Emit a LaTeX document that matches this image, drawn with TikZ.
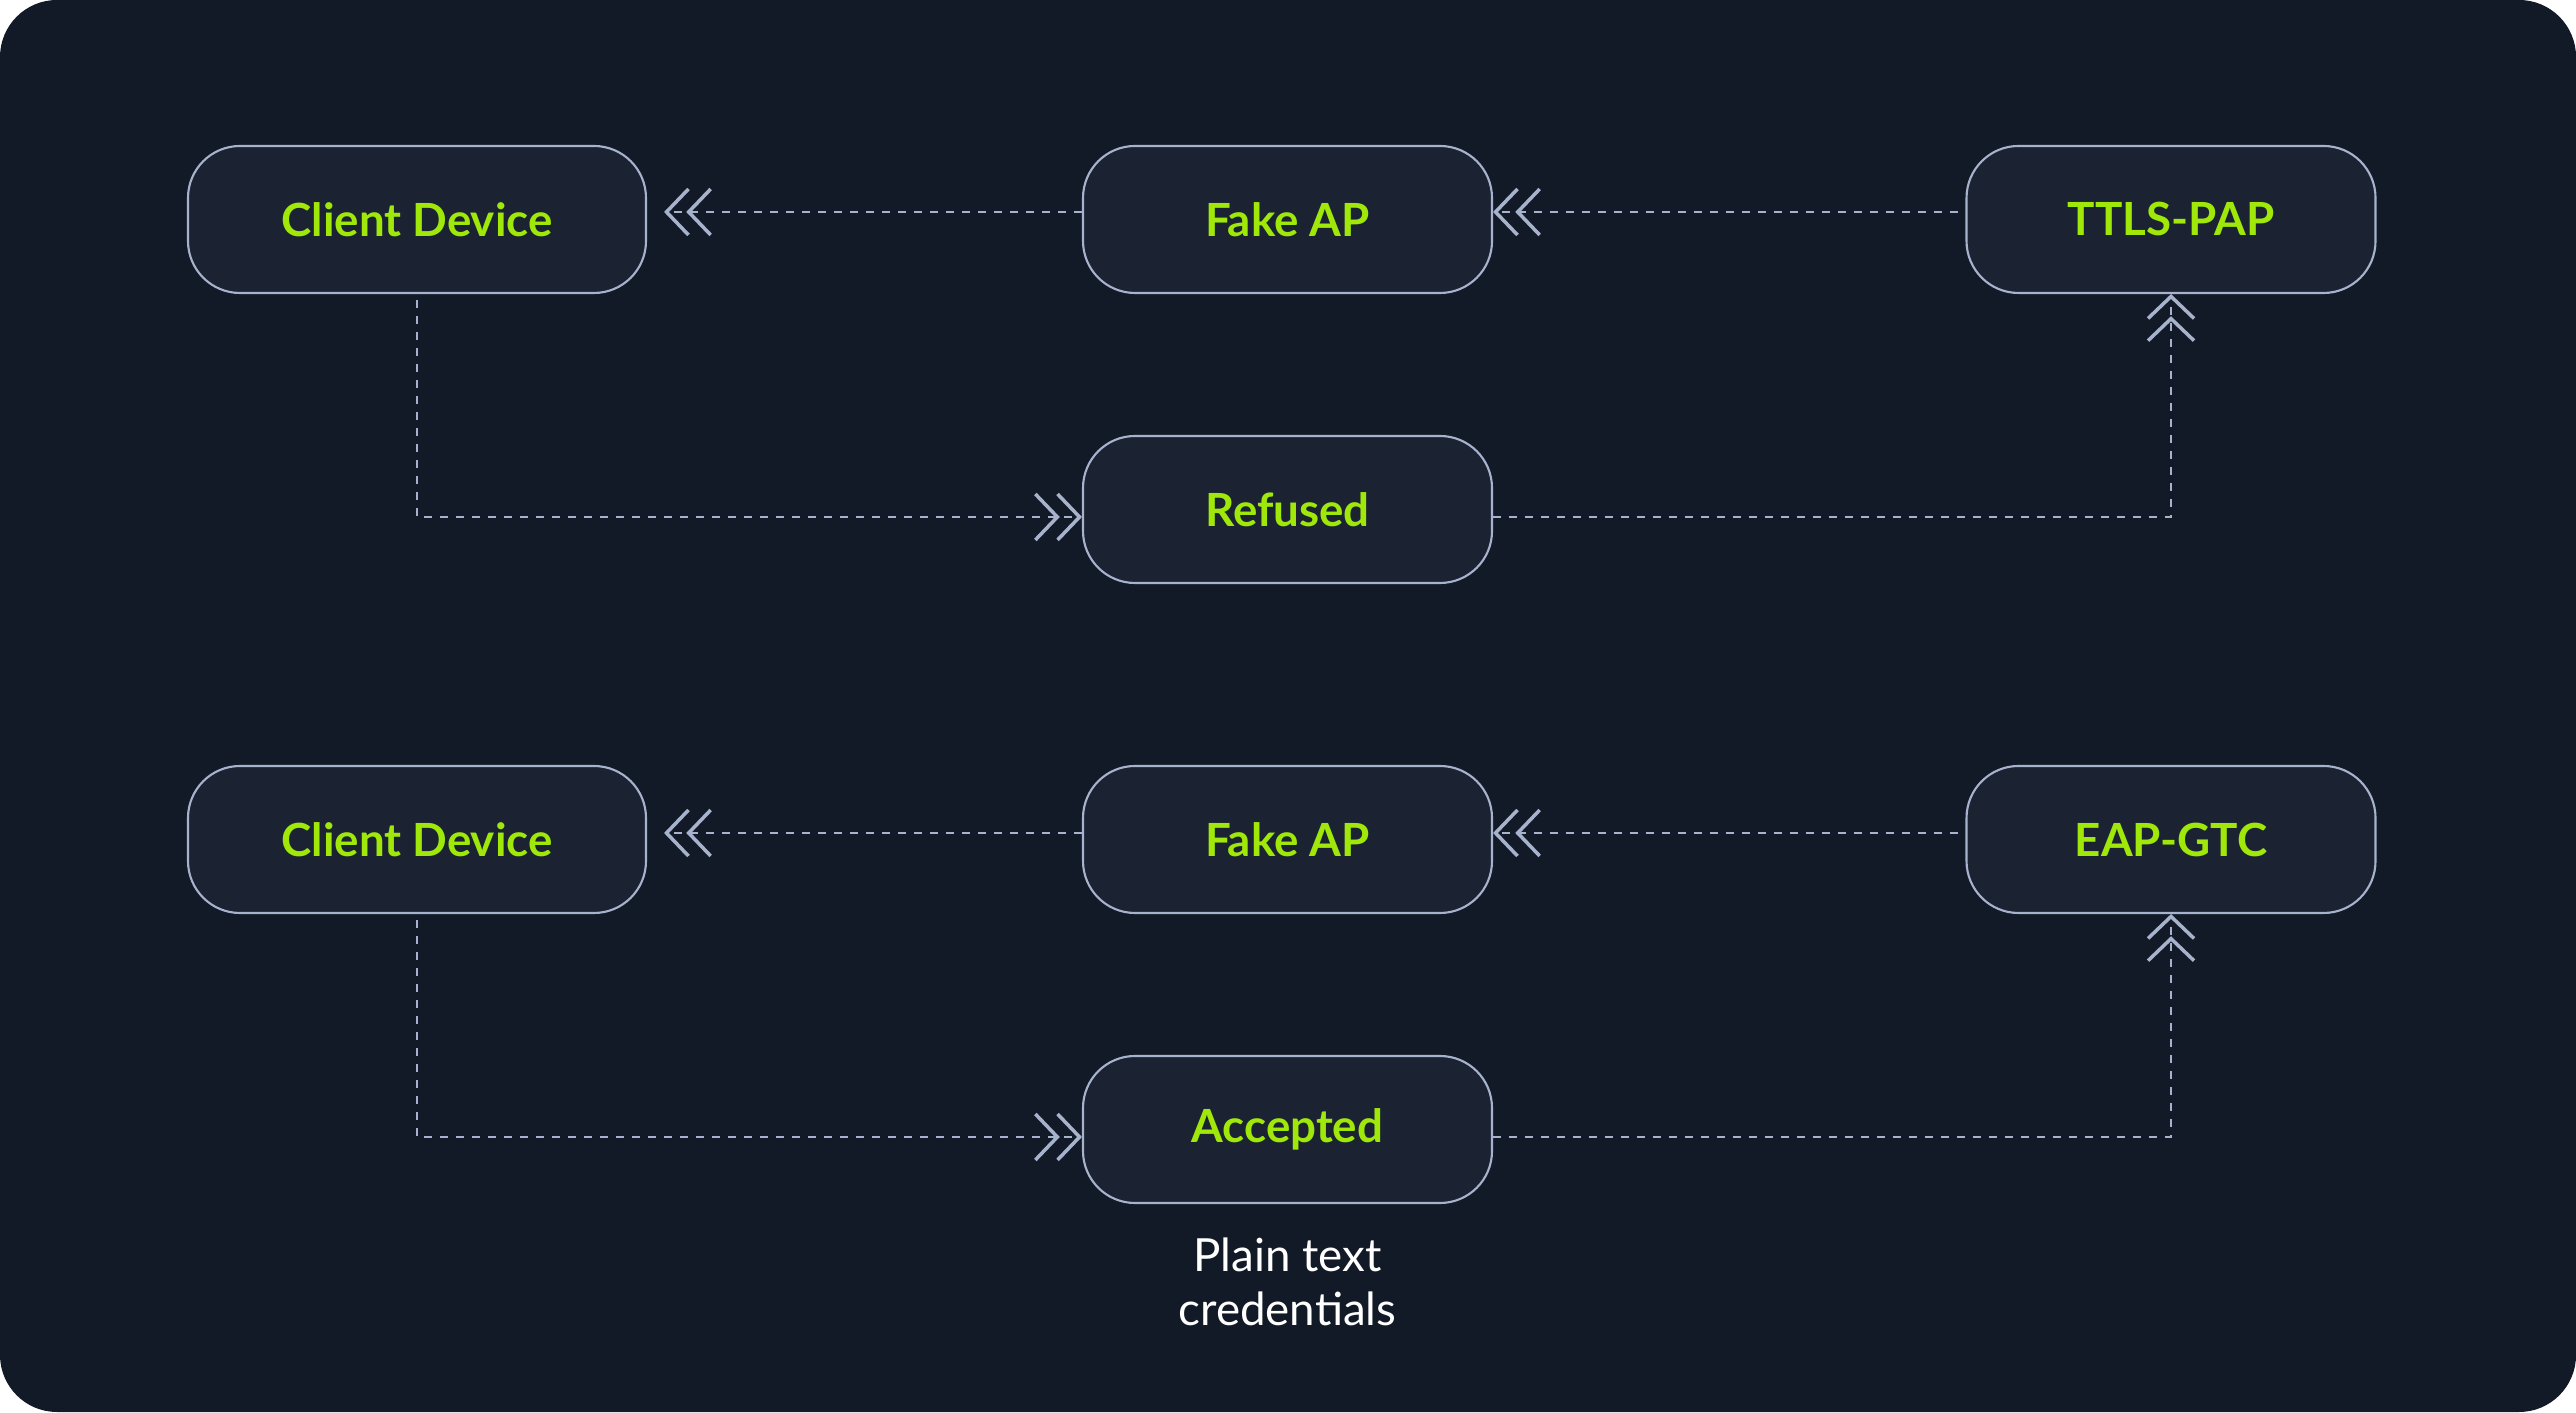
\documentclass[tikz,border=0pt]{standalone}
\usepackage{fontspec}
\setmainfont{Lato}
\usepackage{tikz}
\usetikzlibrary{arrows.meta}

\definecolor{bgdark}{HTML}{121A27}
\definecolor{boxfill}{HTML}{1B2333}
\definecolor{edgegray}{HTML}{A7B2CC}
\definecolor{limegreen}{HTML}{9FE80A}

\begin{document}
\begin{tikzpicture}[
    box/.style={draw=edgegray, fill=boxfill, line width=0.6pt, rounded corners=0.52cm,
      minimum height=1.47cm, minimum width=4.09cm, inner sep=0pt,
      text=limegreen, font=\fontsize{13}{15.4}\selectfont\bfseries},
    widebox/.style={box, minimum width=4.58cm},
    flow/.style={draw=edgegray, line width=0.65pt, dash pattern=on 0.08cm off 0.08cm,
      -{Straight Barb[length=0.22cm,width=0.46cm,line width=1pt,sep=-0.4mm]
        Straight Barb[length=0.22cm,width=0.46cm,line width=1pt]}},
    note/.style={text=white, align=center, inner sep=0pt,
      font=\fontsize{13}{15.4}\selectfont}
  ]
    % backdrop
    \fill[bgdark, rounded corners=0.57cm] (0,0) rectangle (25.76,14.12);

    % Top flow: TTLS-PAP
    \node[widebox] (cdA) at (4.17,11.925) {Client Device};
    \node[box] (apA) at (12.875,11.925) {Fake AP};
    \node[box] (ttls) at (21.71,11.925) {TTLS-PAP};
    \node[box] (refused) at (12.875,9.025) {Refused};

    \draw[flow, shorten >=0.17cm] ([yshift=0.075cm]apA.west) -- ([yshift=0.075cm]cdA.east);
    \draw[flow, shorten <=0.07cm] ([yshift=0.075cm]ttls.west) -- ([yshift=0.075cm]apA.east);
    \draw[flow, shorten <=0.06cm] (cdA.south) |- ([yshift=-0.075cm]refused.west);
    \draw[flow] ([yshift=-0.075cm]refused.east) -| (ttls.south);

    % Bottom flow: EAP-GTC
    \node[widebox] (cdB) at (4.17,5.725) {Client Device};
    \node[box] (apB) at (12.875,5.725) {Fake AP};
    \node[box] (gtc) at (21.71,5.725) {EAP-GTC};
    \node[box] (accepted) at (12.875,2.825) {Accepted};
    \node[note, anchor=north] (creds) at (12.875,1.75) {Plain text\\credentials};

    \draw[flow, shorten >=0.17cm] ([yshift=0.065cm]apB.west) -- ([yshift=0.065cm]cdB.east);
    \draw[flow, shorten <=0.07cm] ([yshift=0.065cm]gtc.west) -- ([yshift=0.065cm]apB.east);
    \draw[flow, shorten <=0.06cm] (cdB.south) |- ([yshift=-0.075cm]accepted.west);
    \draw[flow] ([yshift=-0.075cm]accepted.east) -| (gtc.south);
\end{tikzpicture}
\end{document}
